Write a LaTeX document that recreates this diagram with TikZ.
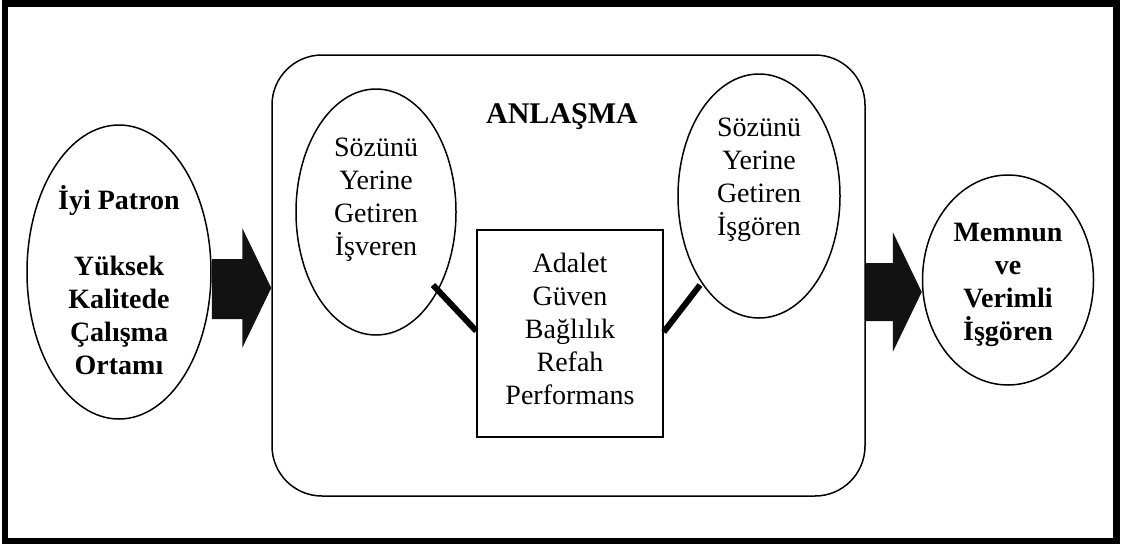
\documentclass[tikz,border=0pt]{standalone}
\usepackage{fontspec}
\setmainfont{Liberation Serif}
\usetikzlibrary{shapes.geometric}
\begin{document}
\begin{tikzpicture}[x=1pt,y=-1pt,
  ell/.style={draw, ellipse, line width=1.5pt, inner sep=0pt},
  txt/.style={align=center, inner sep=0pt, font=\fontsize{28}{33}\selectfont},
  btxt/.style={align=center, inner sep=0pt, font=\fontsize{28}{33}\selectfont\bfseries},
  bigarrow/.style={fill=black!93},
  link/.style={line width=6pt},
]
\useasboundingbox (0,0) rectangle (1121,544);
% outer frame
\draw[line width=6.5pt] (5,3.5) rectangle (1116.5,541);
% agreement box
\node[draw, line width=1.5pt, rounded corners=50pt, minimum width=593pt, minimum height=441pt, inner sep=0pt] (box) at (568.5,275.5) {};
\node[btxt, font=\fontsize{30}{33}\selectfont\bfseries] (title) at (562,117) {ANLAŞMA};
% left ellipse
\node[ell, minimum width=184pt, minimum height=294pt] (L) at (119,272) {};
\node[btxt] (Ltxt) at (119,280) {İyi Patron\\[33pt]Yüksek\\Kalitede\\Çalışma\\Ortamı};
% right ellipse
\node[ell, minimum width=171pt, minimum height=210pt] (R) at (1008,280) {};
\node[btxt] (Rtxt) at (1008,285) {Memnun\\ve\\Verimli\\İşgören};
% inner ellipses
\node[ell, minimum width=160pt, minimum height=246pt] (A) at (376,212) {};
\node[txt] (Atxt) at (376,200) {Sözünü\\Yerine\\Getiren\\İşveren};
\node[ell, minimum width=162pt, minimum height=244pt] (B) at (759,196) {};
\node[txt] (Btxt) at (759,180) {Sözünü\\Yerine\\Getiren\\İşgören};
% center box
\node[draw, line width=1.5pt, minimum width=186pt, minimum height=207pt, inner sep=0pt] (C) at (570,333.5) {};
\node[txt] (Ctxt) at (570,329) {Adalet\\Güven\\Bağlılık\\Refah\\Performans};
% connectors
\coordinate (a1) at (433,285);
\coordinate (c1) at (C.west |- 0,331);
\coordinate (b1) at (700,285);
\coordinate (c2) at (C.east |- 0,332);
\draw[link] (a1) -- (c1);
\draw[link] (b1) -- (c2);
% big arrows
\coordinate (tipL) at (box.west |- 0,288);
\fill[bigarrow] (tipL) -- ++(-29,-60) -- ++(0,31) -- (L.east |- 0,259) -- (L.east |- 0,319) -- ([xshift=-29pt]tipL |- 0,319) -- ++(0,29) -- cycle;
\coordinate (tipR) at (R.west |- 0,292);
\fill[bigarrow] (tipR) -- ++(-29,-60) -- ++(0,31) -- (box.east |- 0,263) -- (box.east |- 0,321) -- ([xshift=-29pt]tipR |- 0,321) -- ++(0,31) -- cycle;
\end{tikzpicture}
\end{document}
